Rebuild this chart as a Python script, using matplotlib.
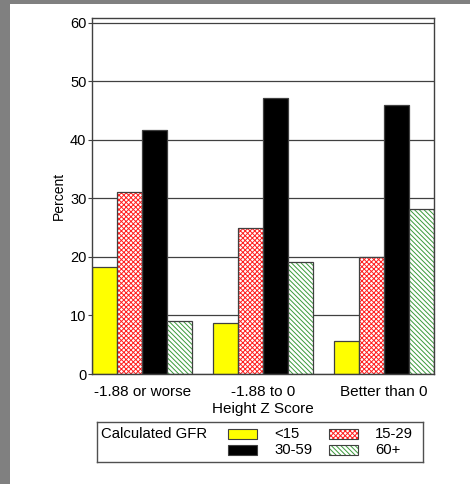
import matplotlib
matplotlib.use("Agg")
import matplotlib.pyplot as plt
import numpy as np
from matplotlib.patches import Rectangle

plt.rcParams['font.family'] = ['Liberation Sans', 'DejaVu Sans']
plt.rcParams['hatch.linewidth'] = 0.7

groups = ["-1.88 or worse", "-1.88 to 0", "Better than 0"]
gfr_labels = ["<15", "15-29", "30-59", "60+"]
lt15 = [18.3, 8.7, 5.7]
g15_29 = [31.0, 25.0, 20.0]
g30_59 = [41.6, 47.1, 45.9]
g60 = [9.0, 19.2, 28.1]
yticks = [0, 10, 20, 30, 40, 50, 60]

series = [lt15, g15_29, g30_59, g60]
# facecolor, hatch colour, hatch pattern
styles = [("#ffff00", None, None),
          ("white", "#ff2020", "xxxxxxx"),
          ("black", None, None),
          ("white", "#3a9a3a", "\\\\\\\\\\\\\\")]
edge = "#404040"

fig = plt.figure(figsize=(4.7, 4.84), dpi=100, facecolor="white")
W, H = 470, 484

def fbox(x0, y0, x1, y1):
    # pixel box (top-left origin) -> figure fraction
    return [x0 / W, 1 - y1 / H, (x1 - x0) / W, (y1 - y0) / H]

# gray frame strips on the left and top
fig.patches.append(Rectangle((0, 0), 10 / W, 1, transform=fig.transFigure,
                             facecolor="#808080", edgecolor="none", zorder=0))
fig.patches.append(Rectangle((0, 1 - 4 / H), 1, 4 / H, transform=fig.transFigure,
                             facecolor="#808080", edgecolor="none", zorder=0))

ax = fig.add_axes(fbox(92, 18, 434, 374))
x = np.arange(len(groups))
bw = 0.207
for i, (vals, (fc, hc, hatch)) in enumerate(zip(series, styles)):
    pos = x + (i - 1.5) * bw
    if hatch:
        ax.bar(pos, vals, bw, color=fc, edgecolor=hc, hatch=hatch,
               linewidth=0, zorder=2)
        ax.bar(pos, vals, bw, fill=False, edgecolor=edge, linewidth=0.9, zorder=3)
    else:
        ax.bar(pos, vals, bw, color=fc, edgecolor=edge, linewidth=0.9, zorder=2)

ax.set_xlim(-2 * bw, len(groups) - 1 + 2 * bw)
ax.set_ylim(0, 60.8)
ax.set_yticks(yticks)
ax.set_yticklabels([str(v) for v in yticks], fontsize=10.5)
ax.tick_params(axis='y', length=3, width=0.8, color=edge, pad=1)
ax.set_xticks(x)
ax.set_xticklabels(groups, fontsize=11)
ax.tick_params(axis='x', length=0, pad=8)
ax.yaxis.grid(True, color=edge, linewidth=0.9)
ax.set_axisbelow(True)
for s in ax.spines.values():
    s.set_color(edge)
    s.set_linewidth(1.0)
ax.set_ylabel("Percent", fontsize=10, labelpad=3)
ax.set_xlabel("Height Z Score", fontsize=11, labelpad=2)

# legend panel
lg = fig.add_axes(fbox(97, 422, 423, 462))
lg.set_xlim(97, 423)
lg.set_ylim(462, 422)
lg.set_xticks([])
lg.set_yticks([])
for s in lg.spines.values():
    s.set_color("#505050")
    s.set_linewidth(1.0)
lg.text(101, 434, "Calculated GFR", fontsize=10.7, va="center", ha="left")
slots = [(228, 429), (329, 429), (228, 445), (329, 445)]
for (px, py), lab, (fc, hc, hatch) in zip(slots, gfr_labels, styles):
    if hatch:
        lg.add_patch(Rectangle((px, py), 29, 10, facecolor=fc, edgecolor=hc,
                               hatch=hatch, linewidth=0))
        lg.add_patch(Rectangle((px, py), 29, 10, fill=False, edgecolor=edge,
                               linewidth=0.8))
    else:
        lg.add_patch(Rectangle((px, py), 29, 10, facecolor=fc, edgecolor=edge,
                               linewidth=0.8))
    lg.text(px + 46, py + 5, lab, fontsize=10.7, va="center", ha="left")

fig.savefig("out.png", dpi=100, facecolor="white")
